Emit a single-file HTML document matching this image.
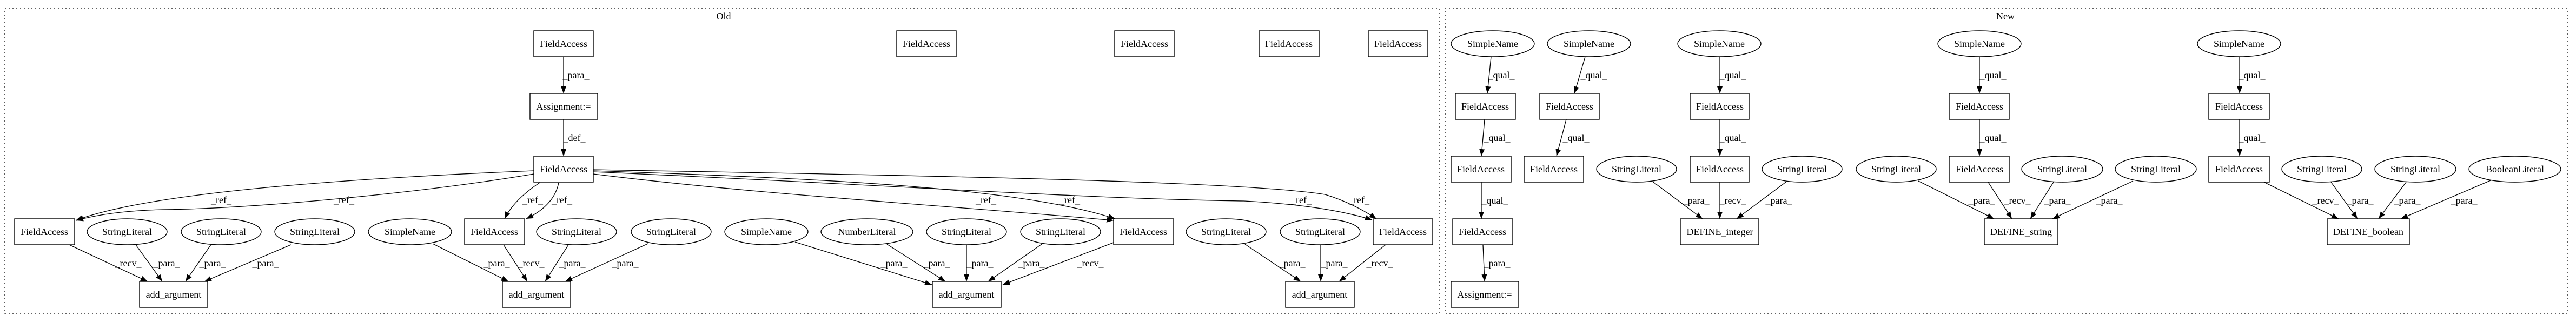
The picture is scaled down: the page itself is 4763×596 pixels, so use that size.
<!DOCTYPE html>
<html><head><meta charset="utf-8"><style>
html,body{margin:0;padding:0;background:#fff;}
svg{display:block;}
text{font-family:"Liberation Serif",serif;font-size:18px;fill:#000;}
.n{fill:none;stroke:#000;stroke-width:1.4;}
.e{fill:none;stroke:#000;stroke-width:1.3;marker-end:url(#a);}
.c{fill:none;stroke:#000;stroke-width:1.3;stroke-dasharray:2,5;}
</style></head><body>
<svg width="4763" height="596" viewBox="0 0 4763 596" xmlns="http://www.w3.org/2000/svg">
<defs><marker id="a" markerUnits="userSpaceOnUse" markerWidth="14" markerHeight="12" refX="13" refY="5" orient="auto"><path d="M0,0 L13,5 L0,10 Z" fill="#000"/></marker></defs>
<rect class="c" x="9" y="16" width="2652" height="564"/>
<rect class="c" x="2672" y="16" width="2075" height="564"/>
<text x="1338" y="36" text-anchor="middle">Old</text>
<text x="3708" y="36" text-anchor="middle">New</text>

<g text-anchor="middle">
<!-- OLD nodes -->
<rect class="n" x="987" y="57" width="110" height="48"/><text x="1042" y="87">FieldAccess</text>
<rect class="n" x="980" y="173" width="125" height="48"/><text x="1042" y="203">Assignment:=</text>
<rect class="n" x="987" y="289" width="110" height="48"/><text x="1042" y="319">FieldAccess</text>
<rect class="n" x="1658" y="57" width="110" height="48"/><text x="1713" y="87">FieldAccess</text>
<rect class="n" x="2061" y="57" width="110" height="48"/><text x="2116" y="87">FieldAccess</text>
<rect class="n" x="2328" y="57" width="111" height="48"/><text x="2383" y="87">FieldAccess</text>
<rect class="n" x="2530" y="57" width="110" height="48"/><text x="2585" y="87">FieldAccess</text>

<rect class="n" x="27" y="405" width="111" height="48"/><text x="82" y="435">FieldAccess</text>
<ellipse class="n" cx="235" cy="429" rx="74" ry="24"/><text x="235" y="435">StringLiteral</text>
<ellipse class="n" cx="409" cy="429" rx="74" ry="24"/><text x="409" y="435">StringLiteral</text>
<ellipse class="n" cx="582" cy="429" rx="74" ry="24"/><text x="582" y="435">StringLiteral</text>
<ellipse class="n" cx="758" cy="429" rx="77" ry="24"/><text x="758" y="435">SimpleName</text>
<rect class="n" x="859" y="405" width="111" height="48"/><text x="914" y="435">FieldAccess</text>
<ellipse class="n" cx="1066" cy="429" rx="74" ry="24"/><text x="1066" y="435">StringLiteral</text>
<ellipse class="n" cx="1241" cy="429" rx="74" ry="24"/><text x="1241" y="435">StringLiteral</text>
<ellipse class="n" cx="1417" cy="429" rx="77" ry="24"/><text x="1417" y="435">SimpleName</text>
<ellipse class="n" cx="1603" cy="429" rx="85" ry="24"/><text x="1603" y="435">NumberLiteral</text>
<ellipse class="n" cx="1787" cy="429" rx="74" ry="24"/><text x="1787" y="435">StringLiteral</text>
<ellipse class="n" cx="1961" cy="429" rx="74" ry="24"/><text x="1961" y="435">StringLiteral</text>
<rect class="n" x="2059" y="405" width="111" height="48"/><text x="2114" y="435">FieldAccess</text>
<ellipse class="n" cx="2267" cy="429" rx="74" ry="24"/><text x="2267" y="435">StringLiteral</text>
<ellipse class="n" cx="2441" cy="429" rx="74" ry="24"/><text x="2441" y="435">StringLiteral</text>
<rect class="n" x="2539" y="405" width="110" height="48"/><text x="2594" y="435">FieldAccess</text>

<rect class="n" x="258" y="521" width="126" height="48"/><text x="321" y="551">add_argument</text>
<rect class="n" x="929" y="521" width="126" height="48"/><text x="992" y="551">add_argument</text>
<rect class="n" x="1724" y="521" width="127" height="48"/><text x="1787" y="551">add_argument</text>
<rect class="n" x="2377" y="521" width="127" height="48"/><text x="2440" y="551">add_argument</text>

<!-- NEW nodes -->
<ellipse class="n" cx="2760" cy="81" rx="77" ry="24"/><text x="2760" y="87">SimpleName</text>
<ellipse class="n" cx="2938" cy="81" rx="77" ry="24"/><text x="2938" y="87">SimpleName</text>
<ellipse class="n" cx="3179" cy="81" rx="77" ry="24"/><text x="3179" y="87">SimpleName</text>
<ellipse class="n" cx="3660" cy="81" rx="77" ry="24"/><text x="3660" y="87">SimpleName</text>
<ellipse class="n" cx="4140" cy="81" rx="77" ry="24"/><text x="4140" y="87">SimpleName</text>

<rect class="n" x="2691" y="173" width="111" height="48"/><text x="2746" y="203">FieldAccess</text>
<rect class="n" x="2847" y="173" width="110" height="48"/><text x="2902" y="203">FieldAccess</text>
<rect class="n" x="3125" y="173" width="109" height="48"/><text x="3180" y="203">FieldAccess</text>
<rect class="n" x="3604" y="173" width="111" height="48"/><text x="3660" y="203">FieldAccess</text>
<rect class="n" x="4084" y="173" width="112" height="48"/><text x="4140" y="203">FieldAccess</text>

<rect class="n" x="2683" y="289" width="111" height="48"/><text x="2738" y="319">FieldAccess</text>
<rect class="n" x="2818" y="289" width="110" height="48"/><text x="2873" y="319">FieldAccess</text>
<ellipse class="n" cx="3026" cy="313" rx="74" ry="24"/><text x="3026" y="319">StringLiteral</text>
<rect class="n" x="3125" y="289" width="109" height="48"/><text x="3180" y="319">FieldAccess</text>
<ellipse class="n" cx="3332" cy="313" rx="74" ry="24"/><text x="3332" y="319">StringLiteral</text>
<ellipse class="n" cx="3506" cy="313" rx="74" ry="24"/><text x="3506" y="319">StringLiteral</text>
<rect class="n" x="3604" y="289" width="111" height="48"/><text x="3660" y="319">FieldAccess</text>
<ellipse class="n" cx="3813" cy="313" rx="75" ry="24"/><text x="3813" y="319">StringLiteral</text>
<ellipse class="n" cx="3986" cy="313" rx="75" ry="24"/><text x="3986" y="319">StringLiteral</text>
<rect class="n" x="4084" y="289" width="112" height="48"/><text x="4140" y="319">FieldAccess</text>
<ellipse class="n" cx="4293" cy="313" rx="74" ry="24"/><text x="4293" y="319">StringLiteral</text>
<ellipse class="n" cx="4466" cy="313" rx="75" ry="24"/><text x="4466" y="319">StringLiteral</text>
<ellipse class="n" cx="4650" cy="313" rx="85" ry="24"/><text x="4650" y="319">BooleanLiteral</text>

<rect class="n" x="2686" y="405" width="111" height="48"/><text x="2741" y="435">FieldAccess</text>
<rect class="n" x="3107" y="405" width="145" height="48"/><text x="3180" y="435">DEFINE_integer</text>
<rect class="n" x="3669" y="405" width="136" height="48"/><text x="3737" y="435">DEFINE_string</text>
<rect class="n" x="4303" y="405" width="152" height="48"/><text x="4379" y="435">DEFINE_boolean</text>
<rect class="n" x="2683" y="521" width="125" height="48"/><text x="2745" y="551">Assignment:=</text>
</g>

<!-- OLD edges -->
<path class="e" d="M1042,105 L1042,173"/>
<path class="e" d="M1042,221 L1042,289"/>
<path class="e" d="M987,316 C650,330 280,355 140,408"/>
<path class="e" d="M987,322 C760,360 450,387 300,388 C220,390 170,400 141,408"/>
<path class="e" d="M998,338 Q950,370 933,405"/>
<path class="e" d="M1033,338 Q1025,380 973,405"/>
<path class="e" d="M1097,322 C1400,360 1750,380 2059,408"/>
<path class="e" d="M1097,316 C1500,330 1880,345 2062,405"/>
<path class="e" d="M1097,318 C1600,340 2000,368 2300,372 Q2450,380 2537,407"/>
<path class="e" d="M1097,314 C1700,325 2300,335 2450,360 Q2500,375 2545,405"/>

<path class="e" d="M128,453 L273,521"/>
<path class="e" d="M251,453 L300,521"/>
<path class="e" d="M390,453 L343,521"/>
<path class="e" d="M538,453 L378,521"/>
<path class="e" d="M800,451 L940,521"/>
<path class="e" d="M931,453 L975,521"/>
<path class="e" d="M1051,453 L1008,521"/>
<path class="e" d="M1198,451 L1045,521"/>
<path class="e" d="M1470,448 L1723,527"/>
<path class="e" d="M1640,452 L1748,521"/>
<path class="e" d="M1787,453 L1787,521"/>
<path class="e" d="M1926,452 L1827,521"/>
<path class="e" d="M2059,449 L1854,527"/>
<path class="e" d="M2302,452 L2405,521"/>
<path class="e" d="M2442,453 L2442,521"/>
<path class="e" d="M2562,453 L2476,521"/>

<!-- NEW edges -->
<path class="e" d="M2757,105 L2750,173"/>
<path class="e" d="M2745,221 L2739,289"/>
<path class="e" d="M2739,337 L2739,405"/>
<path class="e" d="M2742,453 L2745,521"/>
<path class="e" d="M2931,105 L2911,173"/>
<path class="e" d="M2896,221 L2878,289"/>
<path class="e" d="M3180,105 L3180,173"/>
<path class="e" d="M3180,221 L3180,289"/>
<path class="e" d="M3057,337 L3148,405"/>
<path class="e" d="M3180,337 L3180,405"/>
<path class="e" d="M3302,337 L3211,405"/>
<path class="e" d="M3660,105 L3660,173"/>
<path class="e" d="M3660,221 L3660,289"/>
<path class="e" d="M3547,335 L3687,405"/>
<path class="e" d="M3676,337 L3720,405"/>
<path class="e" d="M3797,337 L3754,405"/>
<path class="e" d="M3944,335 L3795,405"/>
<path class="e" d="M4141,105 L4141,173"/>
<path class="e" d="M4141,221 L4141,289"/>
<path class="e" d="M4186,337 L4324,405"/>
<path class="e" d="M4310,337 L4359,405"/>
<path class="e" d="M4449,337 L4398,405"/>
<path class="e" d="M4605,334 L4439,405"/>

<!-- labels -->
<g text-anchor="middle">
<text x="1065" y="145">_para_</text>
<text x="1062" y="261">_def_</text>
<text x="409" y="376">_ref_</text>
<text x="636" y="376">_ref_</text>
<text x="985" y="376">_ref_</text>
<text x="1039" y="376">_ref_</text>
<text x="1823" y="376">_ref_</text>
<text x="1978" y="376">_ref_</text>
<text x="2406" y="376">_ref_</text>
<text x="2513" y="376">_ref_</text>
<text x="237" y="493">_recv_</text>
<text x="308" y="493">_para_</text>
<text x="393" y="493">_para_</text>
<text x="491" y="493">_para_</text>
<text x="918" y="493">_para_</text>
<text x="982" y="493">_recv_</text>
<text x="1058" y="493">_para_</text>
<text x="1156" y="493">_para_</text>
<text x="1653" y="493">_para_</text>
<text x="1732" y="493">_para_</text>
<text x="1812" y="493">_para_</text>
<text x="1907" y="493">_para_</text>
<text x="2016" y="493">_recv_</text>
<text x="2389" y="493">_para_</text>
<text x="2467" y="493">_para_</text>
<text x="2551" y="493">_recv_</text>

<text x="2776" y="145">_qual_</text>
<text x="2768" y="261">_qual_</text>
<text x="2764" y="377">_qual_</text>
<text x="2768" y="493">_para_</text>
<text x="2947" y="145">_qual_</text>
<text x="2914" y="261">_qual_</text>
<text x="3204" y="145">_qual_</text>
<text x="3204" y="261">_qual_</text>
<text x="3136" y="377">_para_</text>
<text x="3204" y="377">_recv_</text>
<text x="3289" y="377">_para_</text>
<text x="3685" y="145">_qual_</text>
<text x="3685" y="261">_qual_</text>
<text x="3664" y="377">_para_</text>
<text x="3730" y="377">_recv_</text>
<text x="3804" y="377">_para_</text>
<text x="3900" y="377">_para_</text>
<text x="4164" y="145">_qual_</text>
<text x="4164" y="261">_qual_</text>
<text x="4300" y="377">_recv_</text>
<text x="4364" y="377">_para_</text>
<text x="4451" y="377">_para_</text>
<text x="4556" y="377">_para_</text>
</g>
</svg>
</body></html>
